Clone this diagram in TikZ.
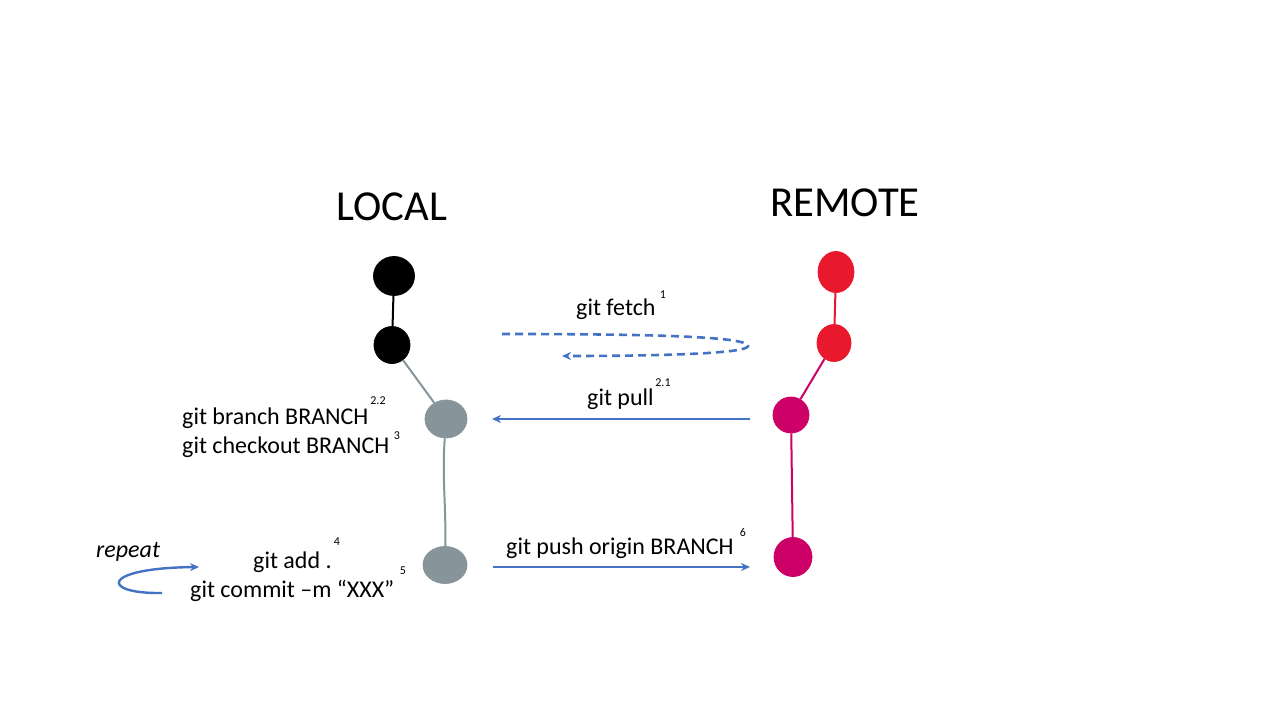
\documentclass[tikz,border=0pt]{standalone}
\usepackage{fontspec}
\setmainfont{Carlito}
\usetikzlibrary{shapes.geometric,arrows.meta}
\definecolor{gitblue}{HTML}{4472C4}
\definecolor{blobgrey}{HTML}{87949A}
\definecolor{blobred}{HTML}{E8192C}
\definecolor{blobmag}{HTML}{CC0066}
\tikzset{
  blob/.style={ellipse, draw=#1, fill=#1, line width=0.8pt, inner sep=0pt},
  cmd/.style={anchor=base west, inner sep=0pt, font=\fontsize{24}{28}\selectfont},
  sup/.style={anchor=center, inner sep=0pt, font=\fontsize{12}{14}\selectfont},
  title/.style={anchor=center, inner sep=0pt, font=\fontsize{42.7}{50}\selectfont},
  link/.style={line width=2pt, #1},
  barrow/.style={draw=gitblue, line width=2.4pt, -{Stealth[length=9pt,width=8pt]}},
}
\begin{document}
\begin{tikzpicture}[x=1pt,y=-1pt]
\useasboundingbox (0,0) rectangle (1280,720);
% titles
\node[title] (local) at (392,207) {LOCAL};
\node[title] (remote) at (845,203) {REMOTE};
% local commits
\node[blob=black, minimum width=41pt, minimum height=39pt] (l1) at (394,276) {};
\node[blob=black, minimum width=36pt, minimum height=37pt] (l2) at (392,345) {};
\node[blob=blobgrey, minimum width=42pt, minimum height=38pt] (l3) at (446,419) {};
\node[blob=blobgrey, minimum width=44pt, minimum height=37pt] (l4) at (445,565) {};
% remote commits
\node[blob=blobred, minimum width=36pt, minimum height=41pt] (r1) at (836,272) {};
\node[blob=blobred, minimum width=34pt, minimum height=37pt] (r2) at (834,343) {};
\node[blob=blobmag, minimum width=36pt, minimum height=36pt] (r3) at (791,415) {};
\node[blob=blobmag, minimum width=38pt, minimum height=39pt] (r4) at (793,557) {};
% links
\draw[link=black] (l1) -- (l2);
\draw[link=blobgrey] (l2) -- (l3);
\draw[link=blobgrey] (l3) .. controls (442,480) and (446,500) .. (l4);
\draw[link=blobred] (r1) -- (r2);
\draw[link=blobmag] (r2) -- (r3);
\draw[link=blobmag] (r3) -- (r4);
% commands
\node[cmd] (fetch) at (576,315) {git fetch};
\node[sup] (fetchs) at (663,295) {1};
\node[cmd] (pull) at (587,405) {git pull};
\node[sup] (pulls) at (663,383) {2.1};
\node[cmd] (branch) at (182,424) {git branch BRANCH};
\node[sup] (branchs) at (378,401) {2.2};
\node[cmd] (checkout) at (182,453) {git checkout BRANCH};
\node[sup] (checkouts) at (397,436) {3};
\node[cmd] (add) at (253,568) {git add .};
\node[sup] (adds) at (337,542) {4};
\node[cmd] (commit) at (190,597) {git commit –m “XXX”};
\node[sup] (commits) at (403,571) {5};
\node[cmd] (push) at (506,554) {git push origin BRANCH};
\node[sup] (pushs) at (743,532) {6};
\node[cmd, font=\fontsize{24}{28}\selectfont\itshape] (repeat) at (96,557) {repeat};
% arrows
\coordinate (fs) at (502,334);
\coordinate (fe) at (562,356);
\draw[draw=gitblue, line width=2.6pt, dash pattern=on 8pt off 5pt, -{Stealth[length=9pt,width=8pt]}]
  (fs) .. controls (640,334) and (748,336) .. (748,346) .. controls (748,354) and (650,356) .. (fe);
\coordinate (ps) at (750,419);
\coordinate (pe) at (492,419);
\draw[barrow] (ps) -- (pe);
\coordinate (us) at (493,567);
\coordinate (ue) at (750,567);
\draw[barrow] (us) -- (ue);
\coordinate (rs) at (162,593);
\coordinate (re) at (199,567);
\draw[barrow] (rs) .. controls (100,594) and (100,568) .. (re);
\end{tikzpicture}
\end{document}
